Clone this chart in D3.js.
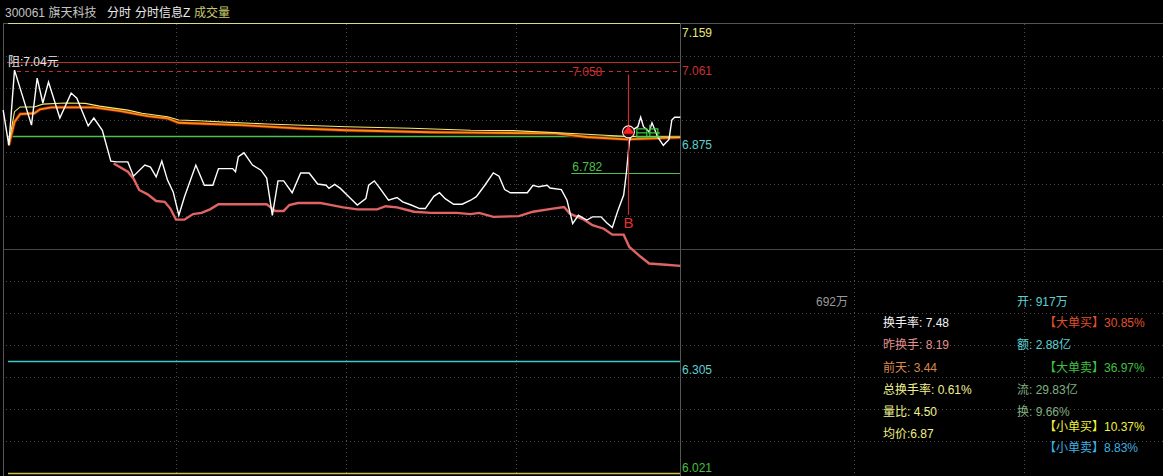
<!DOCTYPE html>
<html><head><meta charset="utf-8">
<script src="https://cdn.jsdelivr.net/npm/d3@7"></script>
<style>html,body{margin:0;padding:0;background:#000;overflow:hidden}
text{font-family:"Liberation Sans","Noto Sans CJK SC",sans-serif}</style>
</head><body><svg id="c" width="1163" height="476"></svg>
<script>
// ---------- data ----------
const titleParts = ["300061 旗天科技", "分时", "分时信息Z", "成交量"];
const priceMin = 6.021, priceMax = 7.159;
const axisLabels = [7.159, 7.061, 6.875, 6.305, 6.021];
const resistLabel = "阻:7.04元";
const resistLevel = 7.04;
const highLevel = 7.061;
const prevClose = 6.875;
const supportLevel = 6.782;
const lowLevel = 6.305;
const markHighLabel = "7.058";
// [minute, price]
const priceLine = [[-1,6.940],[1,6.851],[3,7.041],[9,6.902],[11,7.021],[13,6.958],[15,7.011],[19,6.920],[23,6.983],[25,6.970],[29,6.900],[31,6.920],[34,6.889],[37,6.811],[39,6.809],[43,6.809],[45,6.773],[49,6.801],[51,6.796],[53,6.771],[55,6.811],[57,6.763],[59,6.733],[61,6.674],[63,6.721],[67,6.801],[70,6.750],[73,6.750],[75,6.792],[80,6.792],[81,6.784],[82,6.822],[84,6.832],[87,6.801],[90,6.788],[92,6.768],[93,6.721],[94,6.674],[96,6.761],[98,6.761],[101,6.731],[104,6.781],[107,6.781],[110,6.753],[113,6.750],[114,6.742],[116,6.752],[118,6.742],[121,6.721],[124,6.700],[127,6.716],[128,6.750],[130,6.761],[132,6.742],[135,6.712],[138,6.719],[140,6.708],[143,6.700],[146,6.691],[148,6.691],[151,6.722],[153,6.731],[155,6.716],[158,6.702],[161,6.702],[164,6.712],[166,6.721],[169,6.750],[172,6.781],[174,6.773],[176,6.739],[178,6.731],[184,6.731],[186,6.750],[188,6.746],[191,6.750],[192,6.743],[196,6.739],[198,6.712],[200,6.653],[202,6.674],[205,6.662],[207,6.670],[210,6.670],[212,6.655],[214,6.643],[216,6.687],[218,6.725],[219,6.784],[220,6.860],[221,6.889],[223,6.898],[224,6.922],[225,6.898],[227,6.885],[228,6.908],[230,6.872],[232,6.851],[234,6.866],[235,6.915],[236,6.922],[238,6.922]];
const avgLine = [[1,6.856],[3,6.936],[5,6.948],[10,6.948],[13,6.955],[21,6.958],[28,6.957],[33,6.950],[43,6.940],[48,6.932],[57,6.923],[61,6.915],[68,6.913],[79,6.909],[92,6.905],[120,6.898],[143,6.894],[164,6.889],[179,6.888],[200,6.881],[218,6.874],[238,6.872]];
const avgLine2 = [[1,6.851],[3,6.910],[5,6.930],[10,6.932],[12,6.942],[16,6.947],[31,6.947],[40,6.938],[50,6.925],[57,6.919],[61,6.908],[83,6.902],[103,6.894],[120,6.889],[150,6.884],[164,6.883],[194,6.881],[205,6.872],[219,6.866],[238,6.871]];
const lowerLine = [[38,6.805],[43,6.784],[45,6.767],[47,6.738],[50,6.727],[53,6.710],[56,6.708],[58,6.691],[60,6.663],[63,6.663],[66,6.677],[69,6.680],[72,6.689],[75,6.702],[86,6.702],[92,6.702],[94,6.691],[95,6.685],[98,6.685],[100,6.700],[103,6.705],[111,6.705],[114,6.701],[119,6.694],[124,6.689],[131,6.689],[134,6.697],[138,6.694],[144,6.683],[150,6.680],[159,6.680],[164,6.677],[167,6.680],[172,6.670],[181,6.672],[186,6.683],[193,6.691],[197,6.695],[199,6.678],[204,6.663],[207,6.649],[211,6.640],[214,6.625],[218,6.625],[220,6.594],[224,6.569],[227,6.552],[233,6.549],[238,6.546]];
const buySignal = {minute: 220, price: 6.885, top: 7.03, label: "B", labelPrice: 6.675};
const supportStartMinute = 199.5;
const infoVolume = "692万";
const infoLeft = ["换手率: 7.48", "昨换手: 8.19", "前天: 3.44", "总换手率: 0.61%", "量比: 4.50", "均价:6.87"];
const infoRight = ["开: 917万", "【大单买】30.85%", "额: 2.88亿", "【大单卖】36.97%", "流: 29.83亿", "换: 9.66%", "【小单买】10.37%", "【小单卖】8.83%"];

// ---------- drawing ----------
const svg = d3.select("#c");
svg.append("rect").attr("width",1163).attr("height",476).attr("fill","#000");
const x = d3.scaleLinear().domain([0,240]).range([6,686]);
const y = d3.scaleLinear().domain([priceMin,priceMax]).range([473.5,23.5]);
const X0 = 7, X1 = 680;

// grid
const step = (priceMax-priceMin)/14;
const gridVals = d3.range(1,14).map(i => priceMin + i*step);
gridVals.forEach((v,i) => {
  const yy = Math.round(y(v)) + 0.5;
  if (i === 6) {
    svg.append("line").attr("x1",3.5).attr("x2",1163).attr("y1",yy).attr("y2",yy).attr("stroke","#464646");
  } else {
    svg.append("line").attr("x1",6).attr("x2",1163).attr("y1",yy).attr("y2",yy)
      .attr("stroke","#4a4a4a").attr("stroke-dasharray","1,3");
  }
});
[60,120,180].forEach(m => {
  const xx = Math.round(x(m)) + 0.5;
  svg.append("line").attr("x1",xx).attr("x2",xx).attr("y1",24).attr("y2",476).attr("stroke","#4a4a4a").attr("stroke-dasharray","1,3");
});
[854.5,1024.5].forEach(xx => {
  svg.append("line").attr("x1",xx).attr("x2",xx).attr("y1",24).attr("y2",476).attr("stroke","#4a4a4a").attr("stroke-dasharray","1,3");
});
// frame
svg.append("line").attr("x1",3.5).attr("x2",3.5).attr("y1",23).attr("y2",476).attr("stroke","#555");
svg.append("line").attr("x1",680.5).attr("x2",680.5).attr("y1",23).attr("y2",476).attr("stroke","#555");
svg.append("line").attr("x1",3).attr("x2",8).attr("y1",23.5).attr("y2",23.5).attr("stroke","#555");
svg.append("line").attr("x1",680).attr("x2",1163).attr("y1",23.5).attr("y2",23.5).attr("stroke","#555");
svg.append("line").attr("x1",X0+1).attr("x2",X1).attr("y1",23.5).attr("y2",23.5).attr("stroke","#d8d890");
svg.append("line").attr("x1",X0+1).attr("x2",X1).attr("y1",y(priceMin)).attr("y2",y(priceMin)).attr("stroke","#d0c050").attr("stroke-width",1.5);

// level lines
function hline(v, x1, color, dash, w) {
  const yy = Math.round(y(v)) + 0.5;
  const l = svg.append("line").attr("x1",x1).attr("x2",X1).attr("y1",yy).attr("y2",yy).attr("stroke",color).attr("stroke-width",w||1);
  if (dash) l.attr("stroke-dasharray",dash);
}
hline(highLevel, X0, "#b83030");
hline(resistLevel, 17, "#c83030", "4,4");
hline(prevClose, X0+1, "#4cc04c", null, 1.3);
hline(lowLevel, X0+1, "#3cc8c8", null, 1.3);
hline(supportLevel, x(supportStartMinute), "#4cc04c", null, 1.2);

// labels on chart
svg.append("text").attr("x",8).attr("y",Math.round(y(highLevel))+4).attr("fill","#e6e6e6").attr("font-size",12).text(resistLabel);
svg.append("text").attr("x",x(supportStartMinute)+1).attr("y",Math.round(y(resistLevel))+5).attr("fill","#c83030").attr("font-size",12).text(markHighLabel);
svg.append("text").attr("x",x(supportStartMinute)+1).attr("y",Math.round(y(supportLevel))-2).attr("fill","#4cc04c").attr("font-size",12).text(supportLevel.toFixed(3));

// series
const line = d3.line().x(d=>x(d[0])).y(d=>y(d[1]));
svg.append("path").datum(lowerLine).attr("d",line).attr("fill","none").attr("stroke","#e06464").attr("stroke-width",2.4);
svg.append("path").datum(avgLine2).attr("d",line).attr("fill","none").attr("stroke","#7a1a08").attr("stroke-width",3.5);
svg.append("path").datum(avgLine2).attr("d",line).attr("fill","none").attr("stroke","#ff8a10").attr("stroke-width",1.8);
svg.append("path").datum(avgLine).attr("d",line).attr("fill","none").attr("stroke","#f4ec70").attr("stroke-width",1.1);
svg.append("path").datum(priceLine).attr("d",line).attr("fill","none").attr("stroke","#ffffff").attr("stroke-width",1.4);

// buy signal
const bx = Math.round(x(buySignal.minute)) - 0.5;
svg.append("line").attr("x1",bx).attr("x2",bx).attr("y1",y(buySignal.top)).attr("y2",y(buySignal.labelPrice)).attr("stroke","#c83030").attr("stroke-width",1.2);
svg.append("text").attr("x",bx).attr("y",y(buySignal.labelPrice)+13).attr("text-anchor","middle").attr("fill","#e03030").attr("font-size",15).text(buySignal.label);
// green glyphs
const gx = x(buySignal.minute+3), gy = y(buySignal.price);
const g = svg.append("g").attr("stroke","#40d040").attr("fill","none").attr("stroke-width",1.2);
g.append("rect").attr("x",gx-1).attr("y",gy-3).attr("width",10).attr("height",8);
g.append("line").attr("x1",gx-1).attr("x2",gx+9).attr("y1",gy+1).attr("y2",gy+1);
g.append("path").attr("d",`M${gx+12},${gy+5}V${gy-7}M${gx+12},${gy-3}H${gx+20}V${gy+5}M${gx+10},${gy+1}H${gx+22}`);
g.append("line").attr("x1",gx-2).attr("x2",gx+23).attr("y1",gy+5).attr("y2",gy+5);
// circle + triangle
const cy = y(buySignal.price);
svg.append("circle").attr("cx",bx).attr("cy",cy).attr("r",6).attr("fill","#300").attr("stroke","#f0f0f0").attr("stroke-width",1.2);
svg.append("path").attr("d",`M${bx},${cy-6}L${bx+6},${cy+2}L${bx-6},${cy+2}Z`).attr("fill","#ff2020");

// axis labels
const axisColors = ["#e8e878","#c83232","#5ed0d0","#5ed0d0","#40c040"];
axisLabels.forEach((v,i) => {
  svg.append("text").attr("x",682).attr("y",Math.min(Math.round(y(v))+12.5, 472)).attr("fill",axisColors[i]).attr("font-size",12).text(v.toFixed(3));
});

// title
const tx = [5,107,135,194];
const tc = ["#c4c4c4","#eaeaea","#eaeaea","#c8c870"];
titleParts.forEach((t,i)=> svg.append("text").attr("x",tx[i]).attr("y",17).attr("fill",tc[i]).attr("font-size",12).text(t));

// info panel
svg.append("text").attr("x",848).attr("y",306).attr("text-anchor","end").attr("fill","#9a9a9a").attr("font-size",12).text(infoVolume);
const leftColors = ["#f2f2f2","#e49090","#d88a4a","#f0f090","#f0f090","#f0f080"];
const leftY = [327,349,372,394,416,438];
infoLeft.forEach((t,i)=> svg.append("text").attr("x",883).attr("y",leftY[i]).attr("fill",leftColors[i]).attr("font-size",12).text(t));
const rightColors = ["#5ed0d0","#e0502c","#5ed0d0","#40c040","#80b080","#80b080","#f0f040","#40b0e0"];
const rightY = [306,327,349,372,394,416,431,452];
const rightX = [1017,1044,1017,1044,1017,1017,1044,1044];
infoRight.forEach((t,i)=> svg.append("text").attr("x",rightX[i]).attr("y",rightY[i]).attr("fill",rightColors[i]).attr("font-size",12).text(t));
</script></body></html>
